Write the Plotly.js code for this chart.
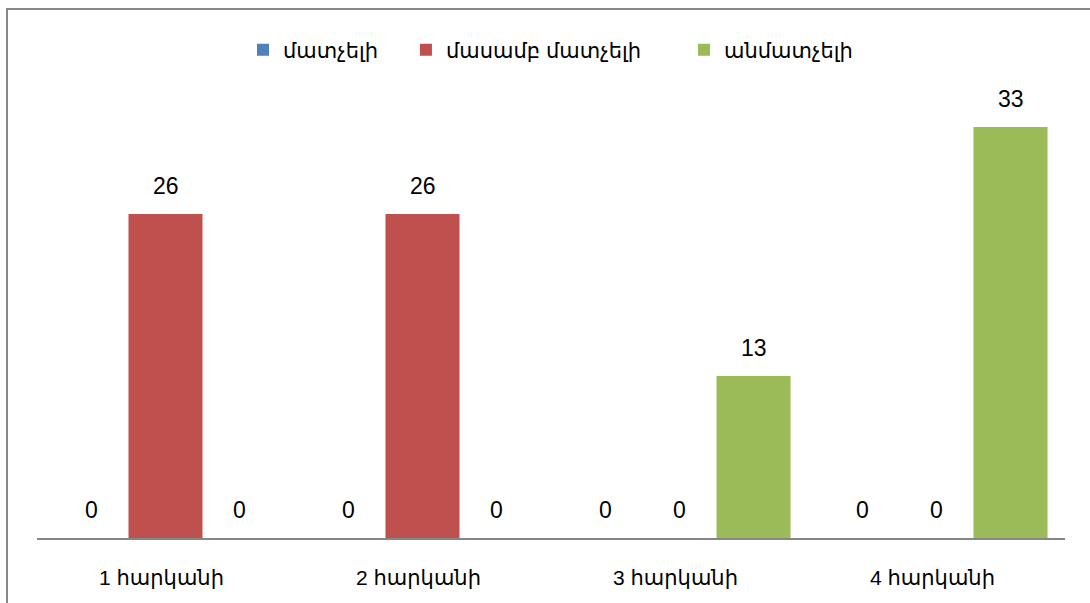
<!DOCTYPE html>
<html>
<head>
<meta charset="utf-8">
<script src="https://cdn.plot.ly/plotly-3.0.1.min.js"></script>
<style>
html,body{margin:0;padding:0;background:#fff;}
#chart{width:1090px;height:603px;}
</style>
</head>
<body>
<div id="chart"></div>
<script>
const categories = ["1 հարկանի", "2 հարկանի", "3 հարկանի", "4 հարկանի"];
const seriesNames = ["մատչելի", "մասամբ մատչելի", "անմատչելի"];
const accessible = [0, 0, 0, 0];
const partlyAccessible = [26, 26, 0, 0];
const inaccessible = [0, 0, 13, 33];
const colors = ["#4F81BD", "#C0504D", "#9BBB59"];

const fontFam = "Liberation Sans, Arial, DejaVu Sans, sans-serif";
const values = [accessible, partlyAccessible, inaccessible];
const legendIds = ["legend", "legend2", "legend3"];
const legendX = [0.2004, 0.3589, 0.6294];

const W = 1090, H = 603;
const margin = {l: 37, r: 25, t: 102, b: 65};
const bargap = 0.136;
const nSeries = values.length;
const barPx = (W - margin.l - margin.r) / categories.length * (1 - bargap) / nSeries;

const traces = values.map((v, i) => ({
  type: "bar",
  name: seriesNames[i],
  legend: legendIds[i],
  x: categories,
  y: v,
  marker: {color: colors[i]},
  hoverinfo: "none"
}));

// value labels placed through the axes at each bar's category/value
const annotations = [];
values.forEach((v, i) => {
  v.forEach((val, j) => {
    annotations.push({
      x: categories[j], y: val, xref: "x", yref: "y",
      text: String(val), showarrow: false,
      xanchor: "center", yanchor: "bottom",
      xshift: (i - (nSeries - 1) / 2) * barPx,
      yshift: 13,
      font: {family: fontFam, size: 23, color: "#000"}
    });
  });
});

const legendBase = {
  orientation: "h",
  xanchor: "left",
  y: 1.119, yanchor: "middle",
  bgcolor: "rgba(0,0,0,0)",
  font: {family: fontFam, size: 21, color: "#000"},
  itemclick: false
};

const layout = {
  width: W,
  height: H,
  margin: margin,
  paper_bgcolor: "#fff",
  plot_bgcolor: "#fff",
  barmode: "group",
  bargap: bargap,
  bargroupgap: 0,
  showlegend: true,
  legend: Object.assign({}, legendBase, {x: legendX[0]}),
  legend2: Object.assign({}, legendBase, {x: legendX[1]}),
  legend3: Object.assign({}, legendBase, {x: legendX[2]}),
  annotations: annotations,
  xaxis: {
    type: "category",
    showline: true,
    linecolor: "#868686",
    linewidth: 1.5,
    ticks: "",
    ticklabelstandoff: 20,
    ticklabelshift: -4,
    tickfont: {family: fontFam, size: 21, color: "#000"},
    showgrid: false,
    zeroline: false
  },
  yaxis: {
    range: [0, 35],
    visible: false,
    showgrid: false,
    zeroline: false
  },
  shapes: [{
    type: "rect",
    xref: "paper", yref: "paper",
    x0: -0.0292, x1: 1.2,
    y0: -0.4, y1: 1.2133,
    line: {color: "#888888", width: 2},
    fillcolor: "rgba(0,0,0,0)",
    layer: "below"
  }]
};

Plotly.newPlot("chart", traces, layout, {displayModeBar: false, staticPlot: true});
</script>
</body>
</html>
